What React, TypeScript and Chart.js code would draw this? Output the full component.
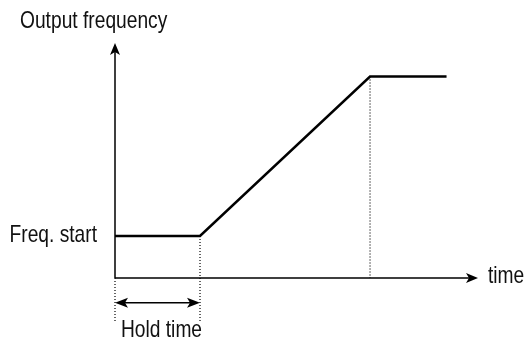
import React, { useEffect, useRef } from "react";
import { Chart, registerables } from "chart.js";

Chart.register(...registerables);

// Data (time units / frequency units)
const timePoints = [0, 1, 3, 3.9]; // start, end of hold time, end of ramp, end of plot
const freqPoints = [12.5, 12.5, 60, 60]; // Freq. start, Freq. start, target, target
const axisMaxTime = 4.27;
const axisMaxFreq = 70;
const guideBottom = -13; // dotted guides below the time axis
const holdArrowLevel = -7.4; // level of the "Hold time" arrow
const yAxisTitle = "Output frequency";
const xAxisTitle = "time";
const startLabel = "Freq. start";
const holdLabel = "Hold time";

const FONT = "'Liberation Sans Narrow', 'Arial Narrow', 'Liberation Sans', Arial, sans-serif";
const NARROW = 0.8;

function stealth(ctx: CanvasRenderingContext2D, tx: number, ty: number, angle: number, len: number, half: number) {
  ctx.save();
  ctx.translate(tx, ty);
  ctx.rotate(angle);
  ctx.beginPath();
  ctx.moveTo(0, 0);
  ctx.lineTo(-len, -half);
  ctx.lineTo(-len + 3, 0);
  ctx.lineTo(-len, half);
  ctx.closePath();
  ctx.fill();
  ctx.restore();
}

function narrowText(ctx: CanvasRenderingContext2D, text: string, x: number, y: number) {
  const w = ctx.measureText(text).width;
  ctx.fillText(text, x, y, w * NARROW);
}

const diagramPlugin = {
  id: "diagram",
  beforeDatasetsDraw(chart: any) {
    const { ctx, scales } = chart;
    const x = scales.x;
    const y = scales.y;
    const x0 = x.getPixelForValue(0);
    const y0 = y.getPixelForValue(0);
    const xEnd = x.getPixelForValue(axisMaxTime);
    const yEnd = y.getPixelForValue(axisMaxFreq);
    ctx.save();
    ctx.strokeStyle = "#000";
    ctx.fillStyle = "#000";
    ctx.lineWidth = 1.5;
    ctx.beginPath();
    ctx.moveTo(x0, y0);
    ctx.lineTo(x0, yEnd + 6);
    ctx.moveTo(x0, y0);
    ctx.lineTo(xEnd - 6, y0);
    ctx.stroke();
    stealth(ctx, x0, yEnd, -Math.PI / 2, 12, 5);
    stealth(ctx, xEnd, y0, 0, 12, 5);
    ctx.restore();
  },
  afterDraw(chart: any) {
    const { ctx, scales } = chart;
    const x = scales.x;
    const y = scales.y;
    const x0 = x.getPixelForValue(0);
    const xh = x.getPixelForValue(timePoints[1]);
    const ya = y.getPixelForValue(holdArrowLevel);
    const y0 = y.getPixelForValue(0);
    const ys = y.getPixelForValue(freqPoints[0]);
    const xEnd = x.getPixelForValue(axisMaxTime);
    ctx.save();
    ctx.strokeStyle = "#000";
    ctx.fillStyle = "#000";
    ctx.lineWidth = 1.5;
    ctx.beginPath();
    ctx.moveTo(x0 + 8, ya);
    ctx.lineTo(xh - 8, ya);
    ctx.stroke();
    stealth(ctx, x0, ya, Math.PI, 13, 5);
    stealth(ctx, xh, ya, 0, 13, 5);

    ctx.fillStyle = "#111";
    ctx.font = `24px ${FONT}`;
    ctx.textBaseline = "alphabetic";
    ctx.textAlign = "left";
    narrowText(ctx, yAxisTitle, 20, 28);
    ctx.textAlign = "right";
    narrowText(ctx, startLabel, x0 - 18, ys + 6);
    ctx.textAlign = "left";
    narrowText(ctx, xAxisTitle, xEnd + 10, y0 + 5);
    ctx.textAlign = "center";
    narrowText(ctx, holdLabel, (x0 + xh) / 2 + 4, 337);
    ctx.restore();
  },
};

export default function App() {
  const ref = useRef<HTMLCanvasElement | null>(null);
  useEffect(() => {
    if (!ref.current) return;
    const line = timePoints.map((t, i) => ({ x: t, y: freqPoints[i] }));
    const guides = [
      { x: timePoints[2], y: freqPoints[2] },
      { x: timePoints[2], y: 0 },
      { x: NaN, y: NaN },
      { x: timePoints[1], y: freqPoints[1] },
      { x: timePoints[1], y: guideBottom },
      { x: NaN, y: NaN },
      { x: timePoints[0], y: 0 },
      { x: timePoints[0], y: guideBottom },
    ];
    const chart = new Chart(ref.current, {
      type: "scatter",
      data: {
        datasets: [
          {
            data: guides as any,
            showLine: true,
            spanGaps: false,
            borderColor: "#000",
            borderWidth: 1.2,
            borderDash: [1, 2],
            pointRadius: 0,
            clip: false as any,
          },
          {
            data: line,
            showLine: true,
            borderColor: "#000",
            borderWidth: 2.5,
            pointRadius: 0,
            tension: 0,
            clip: false as any,
          },
        ],
      },
      options: {
        animation: false,
        responsive: false,
        devicePixelRatio: 1,
        layout: { padding: { left: 115, right: 49, top: 43, bottom: 66 } },
        plugins: { legend: { display: false }, tooltip: { enabled: false } },
        scales: {
          x: { type: "linear", min: 0, max: axisMaxTime, display: false },
          y: { type: "linear", min: 0, max: axisMaxFreq, display: false },
        },
      },
      plugins: [diagramPlugin],
    });
    return () => chart.destroy();
  }, []);
  return (
    <div style={{ position: "absolute", left: 0, top: 0, width: 527, height: 344, background: "#fff" }}>
      <canvas ref={ref} width={527} height={344} />
    </div>
  );
}
